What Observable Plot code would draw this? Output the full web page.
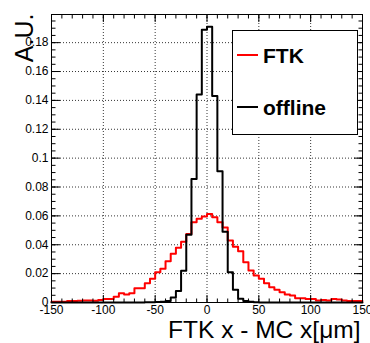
<!DOCTYPE html>
<html><head><meta charset="utf-8">
<script src="https://cdn.jsdelivr.net/npm/d3@7"></script>
<script src="https://cdn.jsdelivr.net/npm/@observablehq/plot@0.6"></script>
<style>
body{margin:0;background:#fff;}
#wrap{position:relative;width:370px;height:343px;}
#wrap svg{position:absolute;left:0;top:0;}
</style></head><body><div id="wrap"></div>
<script>
// 60 bins of 5 µm from -150 to 150
const binStart = -150, binWidth = 5, binCount = 60;
const ftk = [
  0.0005, 0.0005, 0.0006, 0.0010, 0.0010, 0.0012, 0.0014, 0.0014, 0.0012, 0.0018,
  0.0025, 0.0025, 0.0040, 0.0064, 0.0055, 0.0064, 0.0099, 0.0099, 0.0134, 0.0164,
  0.0210, 0.0233, 0.0286, 0.0337, 0.0380, 0.0420, 0.0475, 0.0556, 0.0580, 0.0595,
  0.0613, 0.0590, 0.0556, 0.0520, 0.0430, 0.0387, 0.0355, 0.0279, 0.0221, 0.0187,
  0.0164, 0.0134, 0.0106, 0.0088, 0.0071, 0.0055, 0.0048, 0.0030, 0.0030, 0.0025,
  0.0025, 0.0014, 0.0018, 0.0014, 0.0025, 0.0020, 0.0014, 0.0010, 0.0010, 0.0010
];
const offline = [
  0, 0, 0, 0, 0, 0, 0, 0, 0, 0,
  0, 0, 0, 0, 0, 0, 0, 0, 0.0002, 0.0002,
  0.0003, 0.0005, 0.0010, 0.0035, 0.0080, 0.0220, 0.0470, 0.0855, 0.1440, 0.1890,
  0.1910, 0.1430, 0.0910, 0.0490, 0.0210, 0.0088, 0.0026, 0.0010, 0.0005, 0.0002,
  0, 0, 0, 0, 0, 0, 0, 0, 0, 0,
  0, 0, 0, 0, 0, 0, 0, 0, 0, 0
];
const seriesNames = ["FTK", "offline"];
const seriesColors = ["#ff0000", "#000000"];
const xTickLabels = [-150, -100, -50, 0, 50, 100, 150];
const yTickLabels = [0, 0.02, 0.04, 0.06, 0.08, 0.1, 0.12, 0.14, 0.16, 0.18];
const xGridVals = [-100, -50, 0, 50, 100];
const yGridVals = [0.02, 0.04, 0.06, 0.08, 0.1, 0.12, 0.14, 0.16, 0.18];
const yMax = 0.1995;
const xTitle = "FTK x - MC x[\u03bcm]";
const yTitle = "A.U.";

const xMinor = d3.range(-150, 151, 10);
const yMinor = d3.range(0, 0.19951, 0.005);

function steps(vals) {
  const pts = vals.map((v, i) => ({x: binStart + i * binWidth, y: v}));
  pts.push({x: binStart + binCount * binWidth, y: vals[vals.length - 1]});
  return pts;
}
const font = "'Liberation Sans', Arial, Helvetica, sans-serif";
const tk = {fill: "none", label: null, stroke: "black"};

const plot = Plot.plot({
  width: 370, height: 343,
  marginLeft: 51, marginRight: 8, marginTop: 14, marginBottom: 41,
  style: {fontFamily: font, fontSize: "12px", color: "black", background: "white", overflow: "visible"},
  x: {domain: [-150, 150], label: null},
  y: {domain: [0, yMax], label: null},
  marks: [
    Plot.gridX(xGridVals, {stroke: "black", strokeOpacity: 1, strokeDasharray: "1,2", strokeWidth: 0.8}),
    Plot.gridY(yGridVals, {stroke: "black", strokeOpacity: 1, strokeDasharray: "1,2", strokeWidth: 0.8}),
    Plot.line(steps(ftk), {x: "x", y: "y", curve: "step-after", stroke: seriesColors[0], strokeWidth: 2}),
    Plot.line(steps(offline), {x: "x", y: "y", curve: "step-after", stroke: seriesColors[1], strokeWidth: 2}),
    // inward ticks, all four sides
    Plot.axisX(xMinor, {...tk, anchor: "bottom", tickSize: 3.5, dy: -3.5}),
    Plot.axisX(xTickLabels, {...tk, anchor: "bottom", tickSize: 7, dy: -7}),
    Plot.axisX(xMinor, {...tk, anchor: "top", tickSize: 3.5, dy: 3.5}),
    Plot.axisX(xTickLabels, {...tk, anchor: "top", tickSize: 7, dy: 7}),
    Plot.axisY(yMinor, {...tk, anchor: "left", tickSize: 4.5, dx: 4.5}),
    Plot.axisY(yTickLabels, {...tk, anchor: "left", tickSize: 9, dx: 9}),
    Plot.axisY(yMinor, {...tk, anchor: "right", tickSize: 4.5, dx: -4.5}),
    Plot.axisY(yTickLabels, {...tk, anchor: "right", tickSize: 9, dx: -9}),
    // labels
    Plot.axisX(xTickLabels, {anchor: "bottom", tickSize: 0, tickPadding: 3, tickFormat: d => String(d), label: null, fontSize: 12}),
    Plot.axisY(yTickLabels, {anchor: "left", tickSize: 0, tickPadding: 3, tickFormat: d => String(+d.toFixed(2)), label: null, fontSize: 12}),
    Plot.frame({stroke: "black", strokeWidth: 1}),
    Plot.text([yTitle], {frameAnchor: "top-left", rotate: -90, textAnchor: "end", lineAnchor: "middle", dx: -27, dy: -1, fontSize: 25}),
    Plot.text([xTitle], {frameAnchor: "bottom-right", textAnchor: "end", lineAnchor: "bottom", dx: -2, dy: 35, fontSize: 24.5})
  ]
});
document.getElementById("wrap").appendChild(plot);

// legend overlay
const lg = d3.select("#wrap").append("svg").attr("width", 370).attr("height", 343)
  .style("pointer-events", "none").style("font-family", font);
lg.append("rect").attr("x", 232.5).attr("y", 30.5).attr("width", 125).attr("height", 104)
  .attr("fill", "white").attr("stroke", "black").attr("stroke-width", 1);
seriesNames.forEach((name, i) => {
  const cy = 55 + i * 52;
  lg.append("line").attr("x1", 237).attr("x2", 258).attr("y1", cy).attr("y2", cy)
    .attr("stroke", seriesColors[i]).attr("stroke-width", 2);
  lg.append("text").attr("x", 263).attr("y", cy + 8).attr("font-size", 21).attr("font-weight", "bold")
    .attr("fill", "black").text(name);
});
</script></body></html>
